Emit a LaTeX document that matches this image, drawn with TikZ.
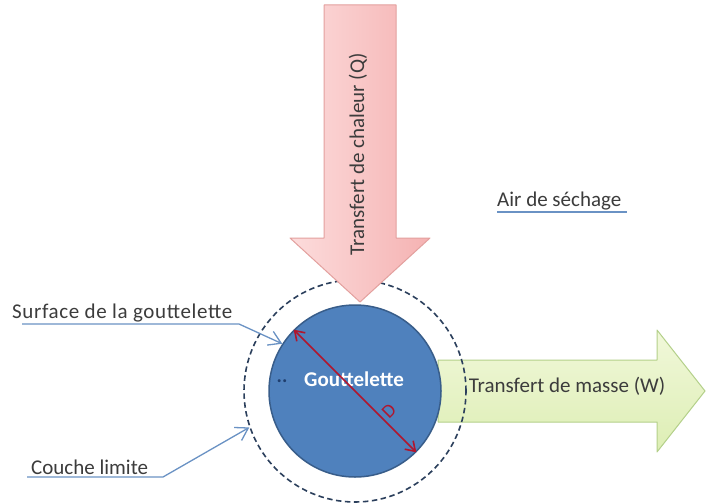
\documentclass[tikz,border=0pt]{standalone}
\usepackage{fontspec}
\setmainfont{Carlito}
\usetikzlibrary{arrows.meta}
\definecolor{txt}{HTML}{3C3C3C}
\definecolor{leadc}{HTML}{6A92C4}
\definecolor{dropfill}{HTML}{4F81BD}
\definecolor{dropline}{HTML}{385D8A}
\definecolor{layerc}{HTML}{2B3F5C}
\definecolor{pinkl}{HTML}{FCDCDC}
\definecolor{pinkr}{HTML}{F5B2B2}
\definecolor{pinkline}{HTML}{E3A09E}
\definecolor{greent}{HTML}{F1F8DA}
\definecolor{greenb}{HTML}{DDEEB4}
\definecolor{greenline}{HTML}{B4D08A}
\definecolor{dred}{HTML}{B0162E}
\definecolor{dotc}{HTML}{1F3E6E}
\begin{document}
\begin{tikzpicture}[x=1pt,y=-1pt,
  lbl/.style={font=\fontsize{21}{25}\selectfont, text=txt, inner sep=0pt},
  leader/.style={draw=leadc, line width=1.3pt, line join=round},
  leadarrow/.style={leader, -{Straight Barb[length=12pt,width=15pt,line width=1.3pt]}},
  ]
\useasboundingbox (0,0) rectangle (706,503);
\fill[white] (0,0) rectangle (706,503);
% green arrow (mass transfer)
\path[top color=greent, bottom color=greenb, draw=greenline, line width=1pt, line join=round]
  (438,360) -- (657,360) -- (657,330) -- (705,391) -- (657,452) -- (657,422) -- (438,422) -- cycle;
\node[lbl] (mass) at (567,386) {Transfert de masse (W)};
% boundary layer
\node[circle, draw=layerc, dashed, dash pattern=on 5.5pt off 3.5pt, line width=1.6pt,
  minimum size=222pt, inner sep=0pt] (layer) at (355,391) {};
% pink arrow (heat transfer)
\path[left color=pinkl, right color=pinkr, draw=pinkline, line width=1pt, line join=round]
  (324,5) -- (396,5) -- (396,238) -- (430,238) -- (360,302) -- (290,238) -- (324,238) -- cycle;
\node[lbl, rotate=90] (heat) at (358,154) {Transfert de chaleur (Q)};
% droplet
\node[circle, fill=dropfill, draw=dropline, line width=1.5pt,
  minimum size=172pt, inner sep=0pt] (drop) at (355,391) {};
\node[font=\fontsize{21}{25}\selectfont\bfseries, text=white, inner sep=0pt] (gname) at (354,379) {Gouttelette};
\node[font=\fontsize{20}{22}\selectfont\bfseries, text=dotc, inner sep=0pt] (dots) at (282,381) {..};
% diameter
\draw[dred, line width=1.6pt, {Straight Barb[length=9pt,width=12pt,line width=1.6pt]}-{Straight Barb[length=9pt,width=12pt,line width=1.6pt]}]
  (drop.135) -- (drop.-45);
\node[font=\fontsize{19}{21}\selectfont, text=dred, rotate=45, inner sep=0pt] (dlab) at (389,411) {D};
% labels
\node[lbl, anchor=west] (surf) at (12,313) {\addfontfeatures{LetterSpace=3}Surface de la gouttelette};
\coordinate (surfa) at (22,324);
\coordinate (surfb) at (239,324);
\draw[leadarrow] (surfa) -- (surfb) -- (drop.147);
\node[lbl, anchor=west] (couche) at (31,467) {Couche limite};
\coordinate (couchea) at (27,477);
\coordinate (coucheb) at (163,477);
\draw[leadarrow] (couchea) -- (coucheb) -- (layer.199);
\node[lbl, anchor=west] (air) at (497,201) {Air de séchage};
\coordinate (aira) at (497,212);
\coordinate (airb) at (627,212);
\draw[leader] (aira) -- (airb);
\end{tikzpicture}
\end{document}
